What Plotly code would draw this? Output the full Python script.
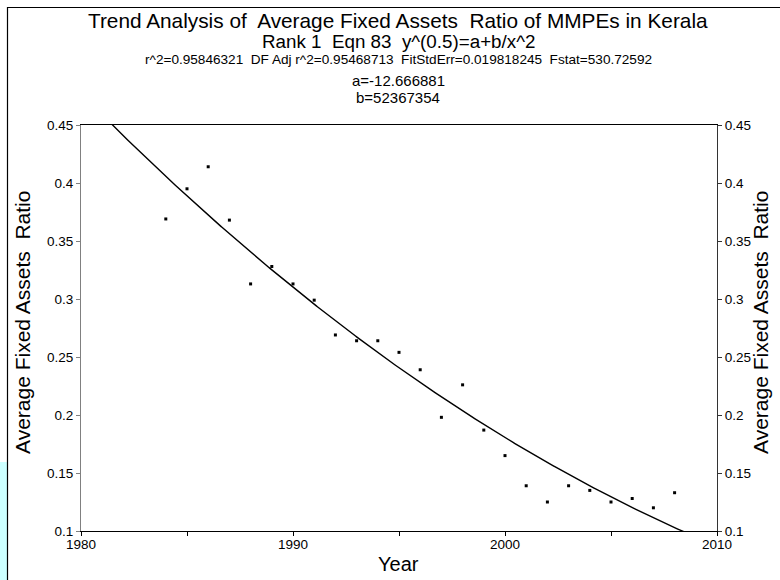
import numpy as np
import plotly.graph_objects as go

# ---- data ----
years = [1984, 1985, 1986, 1987, 1988, 1989, 1990, 1991, 1992, 1993, 1994, 1995,
         1996, 1997, 1998, 1999, 2000, 2001, 2002, 2003, 2004, 2005, 2006, 2007, 2008]
ratio = [0.369, 0.395, 0.414, 0.368, 0.313, 0.328, 0.313, 0.299, 0.269, 0.264, 0.264, 0.254,
         0.239, 0.198, 0.226, 0.187, 0.165, 0.139, 0.125, 0.139, 0.135, 0.125, 0.128, 0.120, 0.133]

# fitted equation parameters (from the chart header): y^(0.5) = a + b / x^2
fit_a = -12.666881
fit_b = 52367354

title_lines = [
    "Trend Analysis of  Average Fixed Assets  Ratio of MMPEs in Kerala",
    "Rank 1  Eqn 83  y^(0.5)=a+b/x^2",
    "r^2=0.95846321  DF Adj r^2=0.95468713  FitStdErr=0.019818245  Fstat=530.72592",
    "a=-12.666881",
    "b=52367354",
]
x_title = "Year"
y_title = "Average Fixed Assets  Ratio"
x_ticks = [1980, 1990, 2000, 2010]
y_ticks = [0.1, 0.15, 0.2, 0.25, 0.3, 0.35, 0.4, 0.45]

fit_x = np.linspace(1980, 2010, 601)
fit_y = (fit_a + fit_b / fit_x ** 2) ** 2

FONT = "Arial, Liberation Sans, sans-serif"
W, H = 780, 580
# plot area in page pixels
PL, PR, PT, PB = 81, 717, 125, 531
ML, MR, MT, MB = PL, W - PR, PT, H - PB
PW, PH = W - ML - MR, H - MT - MB


def px_x(p):  # page pixel -> paper
    return (p - PL) / PW


def px_y(p):
    return (PB - p) / PH


fig = go.Figure()
fig.add_trace(go.Scatter(x=fit_x, y=fit_y, mode="lines",
                         line=dict(color="black", width=1.4), showlegend=False,
                         hoverinfo="skip"))
fig.add_trace(go.Scatter(x=years, y=ratio, mode="markers",
                         marker=dict(color="black", size=3, symbol="square", line=dict(width=0)),
                         showlegend=False))
# invisible trace for right axis
fig.add_trace(go.Scatter(x=[years[0]], y=[ratio[0]], yaxis="y2", mode="markers",
                         marker=dict(opacity=0), showlegend=False, hoverinfo="skip"))

TICKF = dict(size=13.5, family=FONT, color="black")
fig.update_layout(
    width=W, height=H,
    margin=dict(l=ML, r=MR, t=MT, b=MB, pad=0),
    paper_bgcolor="white", plot_bgcolor="white",
    font=dict(family=FONT, color="black", size=13.5),
    xaxis=dict(range=[1980, 2010], tickvals=x_ticks, ticks="outside", ticklen=4,
               tickcolor="black", showline=True, linecolor="black", linewidth=1,
               mirror=True, showgrid=False, zeroline=False, tickfont=TICKF,
               ticklabelstandoff=-3,
               minor=dict(tickvals=[1985, 1995, 2005], ticks="outside", ticklen=4,
                          tickcolor="black", showgrid=False)),
    yaxis=dict(range=[0.1, 0.45], tickvals=y_ticks, ticks="outside", ticklen=4,
               tickcolor="#808080", showline=True, linecolor="#808080", linewidth=1,
               showgrid=False, zeroline=False, tickfont=TICKF),
    yaxis2=dict(range=[0.1, 0.45], tickvals=y_ticks, ticks="outside", ticklen=4,
                tickcolor="#333333", showline=True, linecolor="#333333", linewidth=1,
                overlaying="y", side="right", showgrid=False, zeroline=False,
                tickfont=TICKF),
)

# page frame (top and left edges) and left strip
fig.add_shape(type="rect", xref="paper", yref="paper",
              x0=px_x(0), x1=px_x(7), y0=px_y(600), y1=px_y(462),
              fillcolor="#ccffff", line=dict(width=0), layer="below")
fig.add_shape(type="rect", xref="paper", yref="paper",
              x0=px_x(7.5), x1=px_x(820), y0=px_y(620), y1=px_y(7.5),
              fillcolor="rgba(0,0,0,0)", line=dict(color="black", width=1.2),
              layer="above")

# header text
header = [(title_lines[0], 20, 20.8), (title_lines[1], 41, 18.8), (title_lines[2], 60, 13.6),
          (title_lines[3], 80, 15), (title_lines[4], 98, 15)]
for txt, ypix, sz in header:
    fig.add_annotation(text=txt, xref="paper", yref="paper", x=px_x(398), y=px_y(ypix),
                       xanchor="center", yanchor="middle", showarrow=False,
                       font=dict(family=FONT, size=sz, color="black"))

# axis titles
fig.add_annotation(text=x_title, xref="paper", yref="paper", x=px_x(398), y=px_y(564),
                   xanchor="center", yanchor="middle", showarrow=False,
                   font=dict(family=FONT, size=20, color="black"))
fig.add_annotation(text=y_title, xref="paper", yref="paper", x=px_x(22), y=px_y(323),
                   xanchor="center", yanchor="middle", textangle=-90, showarrow=False,
                   font=dict(family=FONT, size=21, color="black"))
fig.add_annotation(text=y_title, xref="paper", yref="paper", x=px_x(760), y=px_y(323),
                   xanchor="center", yanchor="middle", textangle=-90, showarrow=False,
                   font=dict(family=FONT, size=21, color="black"))

fig.write_html("out.html", config={"displayModeBar": False},
               post_script="document.body.style.margin='0';")
